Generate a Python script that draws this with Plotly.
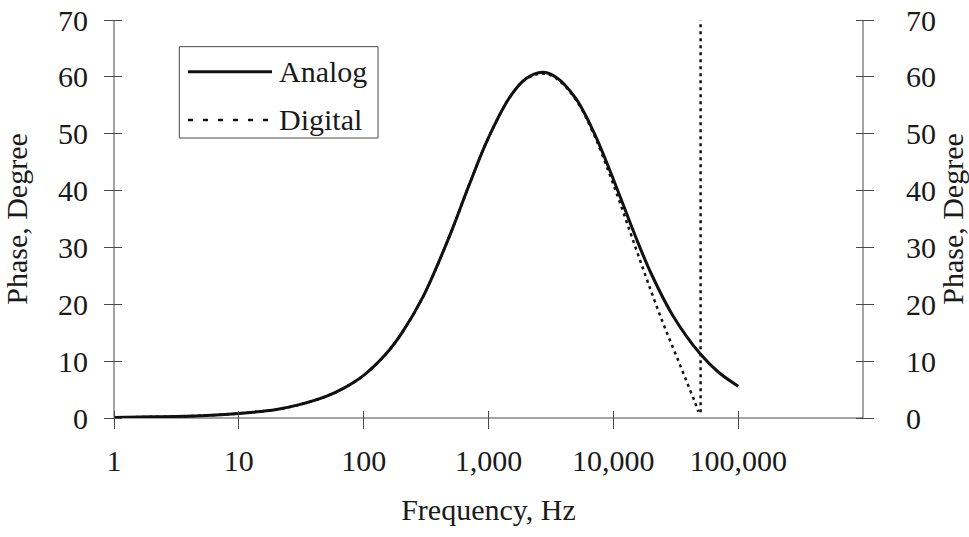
import plotly.graph_objects as go

# Phase response of the analog lead network and its digital (bilinear) counterpart
freq_analog = [1, 2, 5, 10, 20, 30, 50, 70, 100, 150, 200, 300, 500, 700, 1000,
               1500, 2000, 2700, 3500, 5000, 7000, 10000, 15000, 20000, 30000,
               50000, 70000, 100000]
phase_analog = [0.1, 0.2, 0.4, 0.8, 1.5, 2.3, 3.8, 5.3, 7.5, 11.2, 14.8, 21.4,
                32.6, 41.0, 49.3, 56.6, 59.7, 60.8, 59.9, 56.2, 50.2, 42.0, 32.0,
                25.5, 18.0, 11.2, 8.0, 5.6]

freq_digital = [1, 2, 5, 10, 20, 30, 50, 70, 100, 150, 200, 300, 500, 700, 1000,
                1500, 2000, 2700, 3500, 5000, 7000, 10000, 15000, 20000, 25000,
                30000, 35000, 40000, 45000, 48000]
phase_digital = [0.1, 0.2, 0.4, 0.8, 1.5, 2.3, 3.8, 5.3, 7.5, 11.2, 14.8, 21.4,
                 32.6, 41.0, 49.3, 56.6, 59.6, 60.6, 59.7, 56.0, 49.8, 41.1, 30.1,
                 22.4, 16.7, 12.4, 8.8, 5.6, 2.8, 1.1]

# Nyquist frequency marker (sampling at 100 kHz)
nyquist_freq = [50000, 50000]
nyquist_phase = [1.0, 70.0]

x_tickvals = [1, 10, 100, 1000, 10000, 100000]
x_ticktext = ["1", "10", "100", "1,000", "10,000", "100,000"]
y_tickvals = [0, 10, 20, 30, 40, 50, 60, 70]

FONT = "Liberation Serif"
FS = 30
INK = "#1a1a1a"
AXIS = "#4a4a4a"
PLOT_W, PLOT_H = 749, 398
TICK_IN = 8           # part of each tick mark inside the frame (px)
TICK_OUT = 10         # part outside the frame (px)

fig = go.Figure()
fig.add_trace(go.Scatter(x=freq_analog, y=phase_analog, mode="lines", name="Analog",
                         line=dict(color="#111111", width=3, shape="spline"),
                         showlegend=False))
fig.add_trace(go.Scatter(x=freq_digital, y=phase_digital, mode="lines", name="Digital",
                         yaxis="y2",
                         line=dict(color="#111111", width=2.5, dash="3px,4px",
                                   shape="spline"),
                         showlegend=False))
fig.add_trace(go.Scatter(x=nyquist_freq, y=nyquist_phase, mode="lines", name="Nyquist",
                         yaxis="y2",
                         line=dict(color="#111111", width=2.5, dash="3px,4px"),
                         showlegend=False))

tickfont = dict(family=FONT, size=FS, color=INK)
common_y = dict(range=[0, 70], tickvals=y_tickvals, showgrid=False, zeroline=False,
                tickcolor=AXIS, tickwidth=1, ticks="outside",
                ticklen=TICK_IN + TICK_OUT, showline=False, automargin=False,
                anchor="free", tickfont=tickfont)

# Tick marks cross the frame: each axis sits TICK_IN px inside the frame and
# draws its ticks outward across the frame line.
fig.update_layout(
    width=969, height=537,
    margin=dict(l=114, r=106, t=20, b=119, autoexpand=False),
    paper_bgcolor="white", plot_bgcolor="white",
    font=dict(family=FONT, size=FS, color=INK),
    xaxis=dict(type="log", range=[0, 6], tickvals=x_tickvals, ticktext=x_ticktext,
               showgrid=False, zeroline=False, tickcolor=AXIS, tickwidth=1,
               ticks="outside", ticklen=TICK_IN + TICK_OUT, showline=False,
               automargin=False, anchor="free", position=TICK_IN / PLOT_H,
               ticklabelstandoff=6, tickfont=tickfont,
               title=dict(text="Frequency, Hz", standoff=22,
                          font=dict(family=FONT, size=FS, color=INK))),
    yaxis=dict(**common_y, side="left", position=TICK_IN / PLOT_W,
               ticklabelstandoff=10,
               title=dict(text="Phase, Degree", standoff=22,
                          font=dict(family=FONT, size=FS, color=INK))),
    yaxis2=dict(**common_y, side="right", overlaying="y",
                position=1 - TICK_IN / PLOT_W, ticklabelstandoff=26,
                title=dict(text="Phase, Degree", standoff=4,
                           font=dict(family=FONT, size=FS, color=INK))),
)

# Frame lines: bottom, left and right
for x0, x1, y0, y1 in ((0, 1, 0, 0), (0, 0, 0, 1), (1, 1, 0, 1)):
    fig.add_shape(type="line", xref="paper", yref="paper", x0=x0, x1=x1, y0=y0, y1=y1,
                  line=dict(color=AXIS, width=1), layer="below")

# Legend box with line keys
fig.add_shape(type="rect", xref="paper", yref="paper",
              x0=0.0872, x1=0.3525, y0=0.7035, y1=0.933,
              line=dict(color=AXIS, width=1), fillcolor="white", layer="above")
fig.add_shape(type="line", xref="paper", yref="paper",
              x0=0.0988, x1=0.211, y0=0.870, y1=0.870,
              line=dict(color="#111111", width=3), layer="above")
fig.add_shape(type="line", xref="paper", yref="paper",
              x0=0.0988, x1=0.211, y0=0.749, y1=0.749,
              line=dict(color="#111111", width=2.5, dash="5px,10px"), layer="above")
for label, ypos in (("Analog", 0.870), ("Digital", 0.749)):
    fig.add_annotation(text=label, xref="paper", yref="paper", x=0.217, y=ypos,
                       xanchor="left", yanchor="middle", showarrow=False,
                       font=dict(family=FONT, size=FS, color=INK))

fig.write_html("out.html")
